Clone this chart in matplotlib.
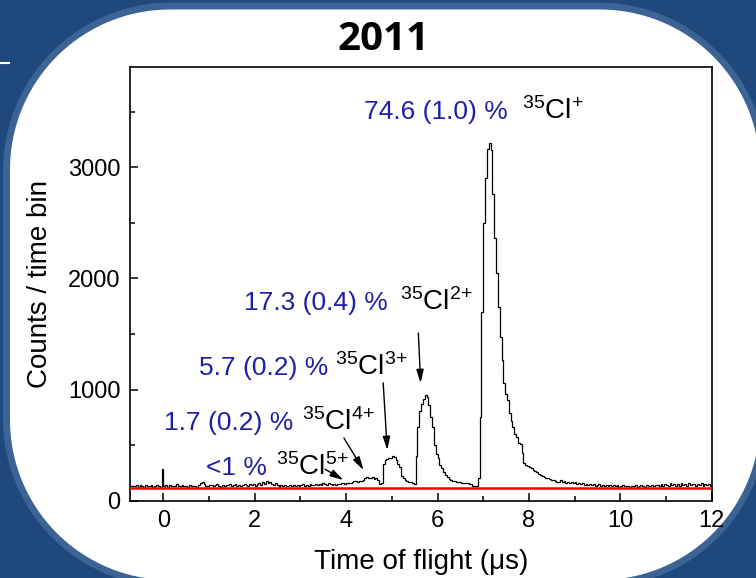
import matplotlib.pyplot as plt
from matplotlib.patches import Polygon
import numpy as np

plt.rcParams['font.family'] = ['Liberation Sans', 'DejaVu Sans']
plt.rcParams['mathtext.fontset'] = 'custom'
plt.rcParams['mathtext.rm'] = 'Liberation Sans'
plt.rcParams['mathtext.it'] = 'Liberation Sans:italic'
plt.rcParams['mathtext.default'] = 'rm'

# TOF histogram, bins of 0.04 us starting at -0.72 us
bin_start = -0.72
bin_width = 0.04
counts = [
    128, 135, 130, 142, 126, 138, 132, 125, 140, 134,
    130, 138, 127, 136, 142, 130, 126, 285, 132, 138,
    125, 140, 133, 128, 136, 148, 135, 130, 142, 128,
    136, 126, 140, 132, 128, 135, 125, 138, 160, 165,
    150, 135, 128, 142, 138, 130, 145, 148, 132, 126,
    140, 135, 145, 138, 150, 132, 140, 148, 136, 142,
    130, 145, 150, 138, 132, 146, 140, 152, 135, 148,
    160, 145, 170, 152, 175, 158, 168, 150, 142, 155,
    138, 126, 140, 134, 142, 128, 136, 145, 130, 138,
    132, 145, 128, 140, 150, 136, 142, 130, 148, 138,
    145, 152, 138, 150, 142, 160, 148, 140, 155, 150,
    145, 150, 140, 152, 148, 155, 160, 150, 162, 158,
    160, 168, 175, 178, 172, 180, 176, 182, 208, 214,
    205, 200, 210, 198, 205, 190, 152, 158, 330, 365,
    372, 385, 380, 398, 392, 365, 330, 300, 225, 200,
    190, 175, 170, 165, 158, 150, 400, 665, 810, 870,
    915, 950, 935, 860, 755, 665, 500, 420, 380, 320,
    290, 262, 235, 216, 195, 186, 180, 176, 172, 168,
    165, 162, 160, 155, 158, 150, 148, 132, 136, 130,
    200, 750, 1700, 2500, 2900, 3160, 3220, 3150, 2760, 2360,
    2050, 1745, 1475, 1265, 1060, 960, 905, 790, 720, 665,
    600, 575, 520, 510, 430, 340, 325, 310, 300, 290,
    276, 270, 255, 240, 231, 225, 215, 205, 200, 192,
    188, 182, 178, 172, 170, 185, 168, 176, 162, 172,
    158, 170, 155, 166, 150, 162, 148, 158, 145, 150,
    140, 152, 138, 146, 135, 142, 150, 136, 144, 132,
    140, 134, 145, 128, 138, 130, 142, 126, 135, 140,
    128, 136, 130, 122, 134, 128, 140, 125, 132, 138,
    130, 126, 142, 135, 128, 140, 133, 145, 138, 130,
    148, 135, 152, 140, 132, 155, 142, 150, 136, 148,
    135, 156, 140, 150, 132, 158, 138, 146, 152, 134,
    150, 138, 155, 130, 148, 140, 152, 136, 145, 140,
]
baseline = 118

fractions = ['74.6 (1.0) %', '17.3 (0.4) %', '5.7 (0.2) %', '1.7 (0.2) %', '<1 %']
charges = ['+', '2\\!+', '3\\!+', '4\\!+', '5\\!+']

blue = '#1f1fa5'


def rounded_rect(x0, y0, x1, y1, r):
    # corner arcs in pixel coords (y pointing down)
    pts = []
    for cx, cy, a0 in [(x0 + r, y0 + r, 180), (x1 - r, y0 + r, 270),
                       (x1 - r, y1 - r, 0), (x0 + r, y1 - r, 90)]:
        th = np.radians(np.linspace(a0, a0 + 90, 40))
        pts.append(np.column_stack([cx + r * np.cos(th), cy + r * np.sin(th)]))
    return np.vstack(pts)


fig = plt.figure(figsize=(7.56, 5.78), dpi=100, facecolor='#1f497d')

# slide background: white rounded panel with lighter rim
bg = fig.add_axes([0, 0, 1, 1], zorder=-5)
bg.set_xlim(0, 756)
bg.set_ylim(578, 0)
bg.axis('off')
bg.add_patch(Polygon(rounded_rect(3, 2.5, 767, 587, 168), closed=True,
                     fc='#3b6394', ec='none'))
bg.add_patch(Polygon(rounded_rect(10, 9.5, 760, 580, 160), closed=True,
                     fc='white', ec='none'))
bg.plot([0, 9], [63, 63], color='white', lw=1.5)

ax = fig.add_axes([0.172, 0.1337, 0.7694, 0.7503])
edges = bin_start + bin_width * np.arange(len(counts) + 1)
ax.stairs(counts, edges, baseline=None, color='black', lw=0.9, zorder=2)
ax.axhline(baseline, color='red', lw=1.8, zorder=3)

ax.set_xlim(-0.73, 12)
ax.set_ylim(0, 3900)
ax.set_xticks(np.arange(0, 13, 2))
ax.set_xticks(np.arange(1, 12, 2), minor=True)
ax.set_yticks([0, 1000, 2000, 3000])
ax.set_yticks([500, 1500, 2500, 3500], minor=True)
ax.tick_params(which='both', direction='in', width=1.1, labelsize=17, pad=7,
               top=False, right=False)
ax.tick_params(which='major', length=6)
ax.tick_params(which='minor', length=3.6)
for s in ax.spines.values():
    s.set_linewidth(1.2)

ax.set_xlabel('Time of flight (\u03bcs)', fontsize=20, labelpad=12)
ax.set_ylabel('Counts / time bin', fontsize=20, labelpad=11)

fig.text(0.507, 0.932, '2011', ha='center', va='center', fontsize=29,
         fontweight='bold', family='Open Sans')

# ion labels: blue fraction ends at x_end, ion name starts at x_ion
label_pos = [(7.54, 7.85, 3430), (4.92, 5.18, 1716), (3.60, 3.76, 1133),
             (2.84, 3.03, 637), (2.27, 2.46, 232)]
for frac, q, (x_end, x_ion, yb) in zip(fractions, charges, label_pos):
    ax.text(x_end, yb, frac, color=blue, fontsize=19, ha='right', va='baseline')
    ax.text(x_ion, yb, r'$^{35}$Cl$^{' + q + '}$', color='black', fontsize=20,
            ha='left', va='baseline')

arrows = [((5.58, 1508), (5.63, 1058)), ((4.81, 1060), (4.90, 456)),
          ((3.95, 564), (4.38, 276)), ((3.54, 283), (3.94, 186))]
for start, tip in arrows:
    ax.annotate('', xy=tip, xytext=start,
                arrowprops=dict(arrowstyle='-|>,head_length=0.8,head_width=0.22',
                                color='black', lw=1.0, shrinkA=0, shrinkB=0,
                                mutation_scale=10))

fig.savefig('out.png', dpi=100, facecolor=fig.get_facecolor())
